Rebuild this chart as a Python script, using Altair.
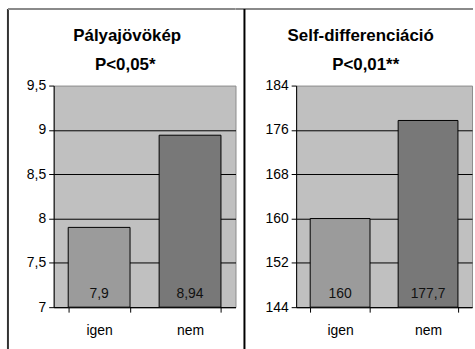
import altair as alt
import pandas as pd

# Group labels and the two measured means
categories = ["igen", "nem"]
palya_values = [7.9, 8.94]
self_values = [160, 177.7]

# Y-axis tick values for each panel
palya_ticks = [7, 7.5, 8, 8.5, 9, 9.5]
self_ticks = [144, 152, 160, 168, 176, 184]

panel_titles = ["Pályajövökép", "Self-differenciáció"]
panel_pvalues = ["P<0,05*", "P<0,01**"]

bar_colors = ["#9b9b9b", "#787878"]
FONT = "Liberation Sans"
PLOT_H = 223
COMMA = "replace(toString(datum.value), '.', ',')"


def one_row():
    return alt.Chart(pd.DataFrame({"k": [0]}))


def panel(values, ticks, title, pvalue, width, title_x, p_x, decorations):
    df = pd.DataFrame({"cat": categories, "v": values})
    top = ticks[-1]
    x = alt.X(
        "cat:N",
        sort=categories,
        title=None,
        scale=alt.Scale(paddingInner=0.32, paddingOuter=0.16),
        axis=alt.Axis(
            labelAngle=0,
            tickBand="extent",
            tickSize=5,
            tickColor="black",
            domainColor="black",
            labelFont=FONT,
            labelFontSize=14,
            labelColor="black",
            labelPadding=12,
        ),
    )
    y = alt.Y(
        "v:Q",
        title=None,
        scale=alt.Scale(domain=[ticks[0], top], nice=False, zero=False),
        axis=alt.Axis(
            values=ticks,
            grid=True,
            gridColor="black",
            gridOpacity={"condition": {"test": f"datum.value >= {top}", "value": 0}, "value": 1},
            tickSize=5,
            tickColor="black",
            domainColor="black",
            labelFont=FONT,
            labelFontSize=14,
            labelColor="black",
            labelPadding=3,
            labelExpr=COMMA,
        ),
    )
    bars = alt.Chart(df).mark_bar(stroke="black", strokeWidth=1).encode(
        x=x,
        y=y,
        y2=alt.datum(ticks[0]),
        color=alt.Color(
            "cat:N",
            scale=alt.Scale(domain=categories, range=bar_colors),
            legend=None,
        ),
    )
    labels = (
        alt.Chart(df)
        .transform_calculate(lab="replace(toString(datum.v), '.', ',')")
        .mark_text(font=FONT, fontSize=14, color="#111111", dy=-9, baseline="alphabetic")
        .encode(x=alt.X("cat:N", sort=categories), y=alt.datum(ticks[0]), text="lab:N")
    )
    t1 = one_row().mark_text(font=FONT, fontSize=17, fontWeight="bold", color="black", baseline="alphabetic").encode(
        x=alt.value(title_x), y=alt.value(-45), text=alt.value(title)
    )
    t2 = one_row().mark_text(font=FONT, fontSize=17, fontWeight="bold", color="black", baseline="alphabetic").encode(
        x=alt.value(p_x), y=alt.value(-16), text=alt.value(pvalue)
    )
    return alt.layer(bars, labels, t1, t2, *decorations).properties(width=width, height=PLOT_H)


def hline(y, x1, x2, color, w):
    return one_row().mark_rule(color=color, strokeWidth=w).encode(
        x=alt.value(x1), x2=alt.value(x2), y=alt.value(y)
    )


def vline(x, y1, y2, color, w):
    return one_row().mark_rule(color=color, strokeWidth=w).encode(
        x=alt.value(x), y=alt.value(y1), y2=alt.value(y2)
    )


left = panel(
    palya_values, palya_ticks, panel_titles[0], panel_pvalues[0], 183, 74, 72,
    [vline(-46, -77, 265, "#333333", 2), hline(-77, -46, 183, "#8a8a8a", 2)],
)
right = panel(
    self_values, self_ticks, panel_titles[1], panel_pvalues[1], 177, 65, 70,
    [hline(-77, -61, 178, "#8a8a8a", 2), vline(-52, -77, 265, "black", 2)],
)

chart = (
    alt.hconcat(left, right, spacing=61, bounds="flush")
    .properties(padding={"left": 6, "top": 6, "right": 0, "bottom": 0}, background="white")
    .configure_view(stroke="#8c8c8c", strokeWidth=1, fill="#c0c0c0")
)

chart.save("out.html", embed_options={"renderer": "svg", "actions": False})
